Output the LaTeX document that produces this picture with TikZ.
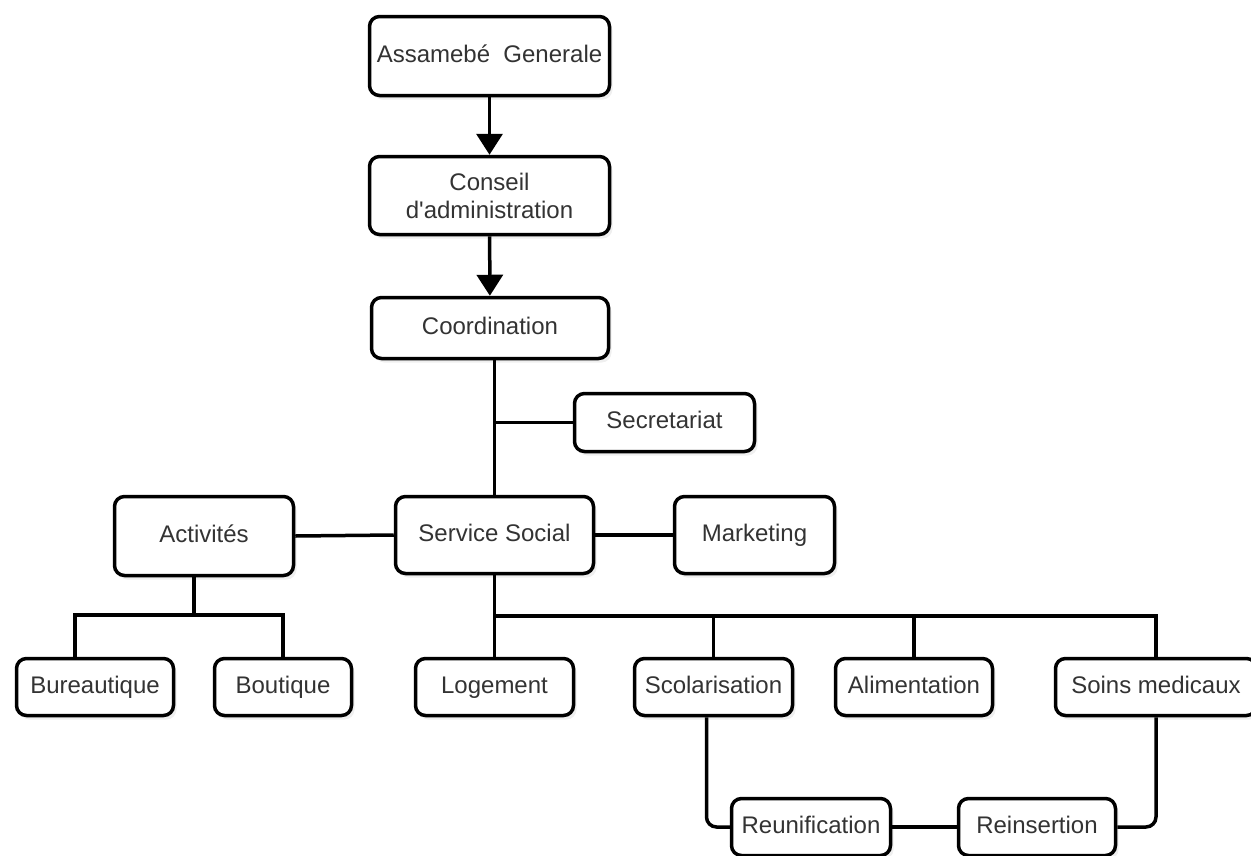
\documentclass[tikz,border=0pt]{standalone}
\usepackage{fontspec}
\setmainfont{Liberation Sans}
\usetikzlibrary{arrows.meta,shadows}
\definecolor{ink}{RGB}{51,51,51}
\begin{document}
\begin{tikzpicture}[x=1pt,y=-1pt,
  orgbox/.style={draw=black, line width=3.5pt, rounded corners=10pt, fill=white,
    text=ink, align=center, inner sep=0pt,
    font=\fontsize{24}{28}\selectfont,
    drop shadow={opacity=0.12, shadow xshift=3pt, shadow yshift=-4pt}},
  oneline/.style={text height=17pt, text depth=5pt},
  sz/.style 2 args={minimum width=#1pt, minimum height=#2pt},
  link/.style={draw=black, line width=3.5pt},
  flow/.style={link, -{Triangle[width=26pt,length=21pt]}}]
\clip (0,0) rectangle (1251,855);
\fill[white] (0,0) rectangle (1251,855);

% governance chain
\node[orgbox, oneline, sz={240}{79}] (ag) at (489.5,56) {Assamebé~~Generale};
\node[orgbox, sz={240}{78}] (ca) at (489.5,195.5) {Conseil\\d\textquotesingle administration};
\node[orgbox, oneline, sz={237}{61}] (co) at (490,328) {Coordination};

% middle level
\node[orgbox, oneline, sz={180}{58}] (sec) at (664.5,422.5) {Secretariat};
\node[orgbox, oneline, sz={198}{77}] (serv) at (494.5,535) {Service Social};
\node[orgbox, oneline, sz={160}{77}] (mkt) at (754.5,535) {Marketing};
\node[orgbox, oneline, sz={179}{79}] (act) at (204,536) {Activités};

% services row
\node[orgbox, oneline, sz={157}{57}] (bur) at (95,687) {Bureautique};
\node[orgbox, oneline, sz={137}{57}] (bou) at (283,687) {Boutique};
\node[orgbox, oneline, sz={158}{57}] (log) at (494.5,687) {Logement};
\node[orgbox, oneline, sz={158}{57}] (scol) at (713.5,687) {Scolarisation};
\node[orgbox, oneline, sz={157}{57}] (ali) at (914,687) {Alimentation};
\node[orgbox, oneline, sz={201}{57}] (soins) at (1156,687) {Soins medicaux};

% follow-up row
\node[orgbox, oneline, sz={159}{57}] (reun) at (811,827) {Reunification};
\node[orgbox, oneline, sz={157}{57}] (reins) at (1037,827) {Reinsertion};

% bus junctions
\coordinate (abus) at (194,615);
\coordinate (sbus) at (494.5,616);

% arrows down the chain
\draw[flow] (ag) -- (ca);
\draw[flow] (ca) -- (co);

% coordination to service social, with secretariat branch
\draw[link] (serv.north) -- (serv.north |- co.south);
\draw[link] (sec.west) -- (sec.west -| serv.north);

% side links
\draw[link] (act.east) -- (serv.west);
\draw[link] (serv.east) -- (mkt.west);

% activities tree
\draw[link] (abus) -- (abus |- act.south);
\draw[link] ([xshift=-20pt]bur.north) |- (abus) -| (bou.north);

% service social tree
\draw[link] (serv.south) -- (log.north);
\draw[link] (sbus) -| (soins.north);
\draw[link] (sbus -| scol.north) -- (scol.north);
\draw[link] (sbus -| ali.north) -- (ali.north);

% follow-up links
\draw[link, rounded corners=10pt] ([xshift=-7pt]scol.south) |- (reun.west);
\draw[link, rounded corners=10pt] (soins.south) |- (reins.east);
\draw[link] (reun.east) -- (reins.west);
\end{tikzpicture}
\end{document}
